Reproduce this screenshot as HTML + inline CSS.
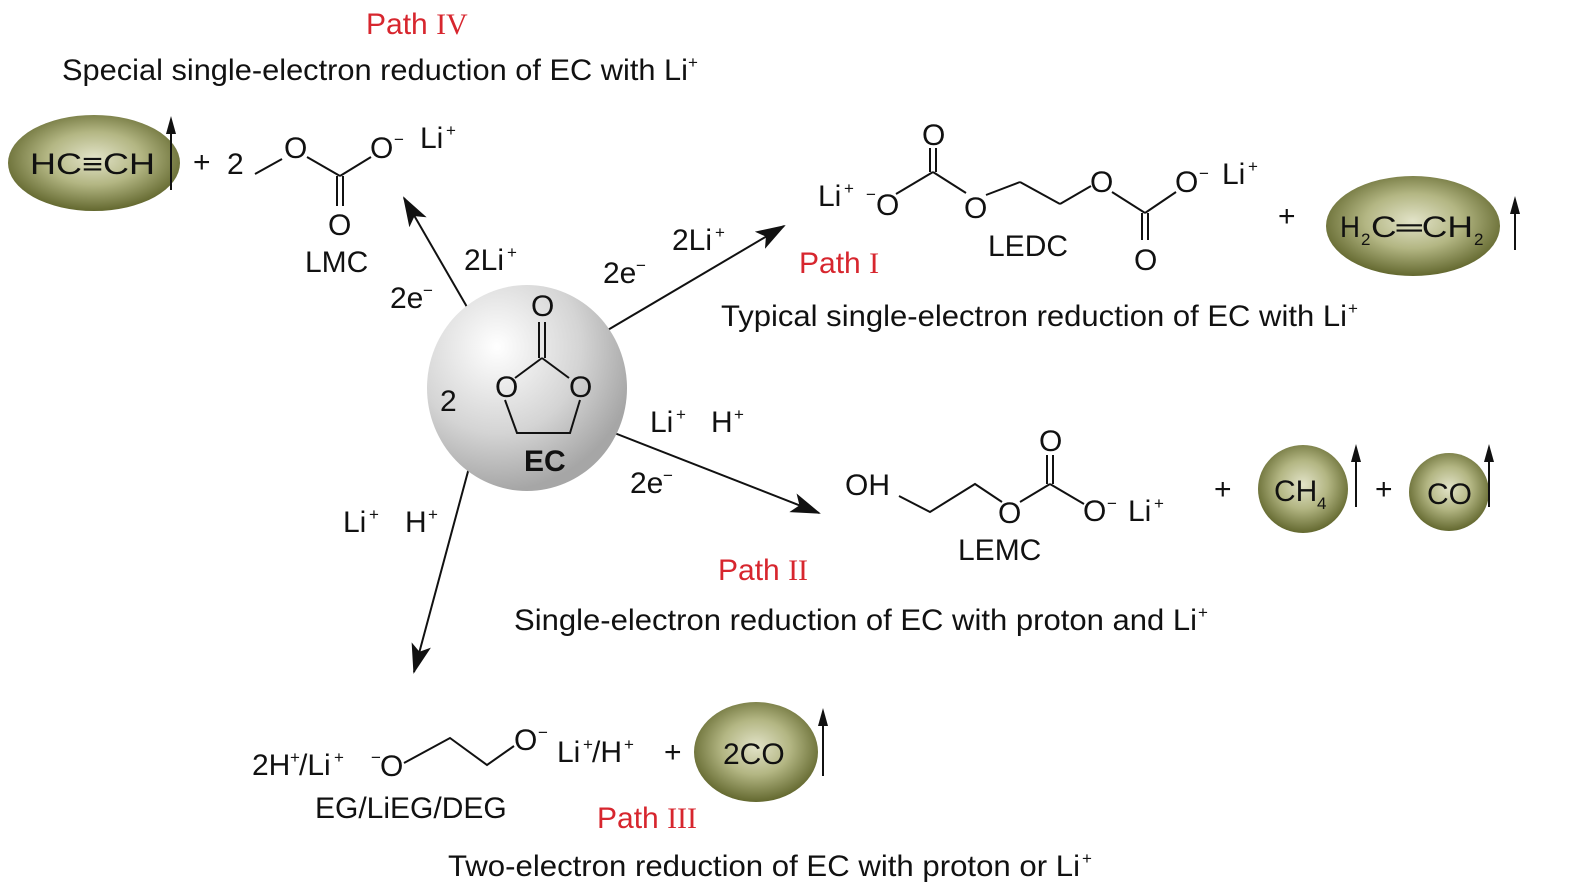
<!DOCTYPE html>
<html><head><meta charset="utf-8"><style>
html,body{margin:0;padding:0;background:#fff;}
svg{display:block;}
text{font-family:"Liberation Sans",Arial,sans-serif;fill:#111;}
.s{font-size:30px;}
.r{fill:#d7262e;}
.rom{font-family:"Liberation Serif",serif;}
.sup{font-size:17px;}
line,polyline{stroke:#111;stroke-width:2;fill:none;}
</style></head><body>
<svg width="1578" height="896" viewBox="0 0 1578 896" xmlns="http://www.w3.org/2000/svg">
<defs>
<radialGradient id="g" cx="50%" cy="45%" r="55%">
<stop offset="0" stop-color="#e2e3c8"/><stop offset="0.5" stop-color="#b3b683"/><stop offset="1" stop-color="#63682f"/>
</radialGradient>
<radialGradient id="gr" cx="35%" cy="30%" r="70%">
<stop offset="0" stop-color="#ffffff"/><stop offset="0.6" stop-color="#d4d4d4"/><stop offset="1" stop-color="#a6a6a6"/>
</radialGradient>
<marker id="ah" viewBox="0 0 30 20" refX="28" refY="10" markerWidth="30" markerHeight="20" markerUnits="userSpaceOnUse" orient="auto">
<path d="M0,0 L30,10 L0,20 L7,10 Z" fill="#111"/></marker>
</defs>

<text x="366" y="34" class="s r">Path <tspan class="rom">IV</tspan></text>
<text x="62" y="80" class="s" textLength="626" lengthAdjust="spacingAndGlyphs">Special single-electron reduction of EC with Li</text><text x="688" y="68" class="sup">+</text>

<ellipse cx="94" cy="163" rx="86" ry="48" fill="url(#g)"/>
<text x="30" y="174" class="s" textLength="125" lengthAdjust="spacingAndGlyphs">HC≡CH</text>
<line x1="171" y1="190" x2="171" y2="132"/><path d="M166,134 L171,116 L176,134 Z" fill="#111"/>
<text x="193" y="172" class="s">+</text>
<text x="227" y="174" class="s">2</text>
<line x1="255" y1="174" x2="282" y2="159"/>
<text x="284" y="158" class="s">O</text>
<line x1="307" y1="157" x2="340" y2="176"/>
<line x1="340" y1="176" x2="371" y2="157"/>
<line x1="337" y1="176" x2="337" y2="206"/><line x1="343" y1="176" x2="343" y2="206"/>
<text x="328" y="235" class="s">O</text>
<text x="370" y="158" class="s">O</text><text x="394" y="145" class="sup">−</text>
<text x="420" y="148" class="s">Li</text><text x="446" y="136" class="sup">+</text>
<text x="305" y="272" class="s">LMC</text>

<line x1="478" y1="326" x2="404" y2="198" marker-end="url(#ah)"/>
<line x1="601" y1="334" x2="784" y2="226" marker-end="url(#ah)"/>
<line x1="594" y1="425" x2="819" y2="513" marker-end="url(#ah)"/>
<line x1="470" y1="464" x2="414" y2="672" marker-end="url(#ah)"/>

<text x="464" y="270" class="s">2Li</text><text x="507" y="258" class="sup">+</text>
<text x="390" y="308" class="s">2e</text><text x="423" y="296" class="sup">−</text>
<text x="672" y="250" class="s">2Li</text><text x="715" y="238" class="sup">+</text>
<text x="603" y="283" class="s">2e</text><text x="636" y="271" class="sup">−</text>
<text x="650" y="432" class="s">Li</text><text x="676" y="420" class="sup">+</text>
<text x="711" y="432" class="s">H</text><text x="734" y="420" class="sup">+</text>
<text x="630" y="493" class="s">2e</text><text x="663" y="481" class="sup">−</text>
<text x="343" y="532" class="s">Li</text><text x="369" y="520" class="sup">+</text>
<text x="405" y="532" class="s">H</text><text x="428" y="520" class="sup">+</text>

<ellipse cx="527" cy="388" rx="100" ry="103" fill="url(#gr)"/>
<text x="531" y="316" class="s">O</text>
<line x1="539" y1="322" x2="539" y2="358"/><line x1="545" y1="322" x2="545" y2="358"/>
<line x1="542" y1="358" x2="515" y2="378"/><line x1="542" y1="358" x2="569" y2="378"/>
<text x="495" y="397" class="s">O</text>
<text x="569" y="397" class="s">O</text>
<polyline points="505,400 517,433 570,433 580,400"/>
<text x="440" y="411" class="s">2</text>
<text x="524" y="471" class="s" font-weight="bold">EC</text>

<text x="818" y="206" class="s">Li</text><text x="844" y="194" class="sup">+</text>
<text x="866" y="200" class="sup">−</text>
<text x="876" y="215" class="s">O</text>
<line x1="896" y1="194" x2="933" y2="172"/>
<line x1="930" y1="172" x2="930" y2="148"/><line x1="936" y1="172" x2="936" y2="148"/>
<text x="922" y="145" class="s">O</text>
<line x1="933" y1="172" x2="966" y2="193"/>
<text x="964" y="218" class="s">O</text>
<line x1="986" y1="195" x2="1020" y2="182"/>
<line x1="1020" y1="182" x2="1060" y2="204"/>
<line x1="1060" y1="204" x2="1091" y2="186"/>
<text x="1090" y="192" class="s">O</text>
<line x1="1112" y1="192" x2="1145" y2="213"/>
<line x1="1142" y1="213" x2="1142" y2="240"/><line x1="1148" y1="213" x2="1148" y2="240"/>
<text x="1134" y="270" class="s">O</text>
<line x1="1145" y1="213" x2="1176" y2="192"/>
<text x="1175" y="192" class="s">O</text><text x="1199" y="179" class="sup">−</text>
<text x="1222" y="184" class="s">Li</text><text x="1248" y="172" class="sup">+</text>
<text x="988" y="256" class="s">LEDC</text>
<text x="799" y="273" class="s r">Path <tspan class="rom">I</tspan></text>
<text x="1278" y="226" class="s">+</text>
<ellipse cx="1413" cy="226" rx="87" ry="50" fill="url(#g)"/>
<text x="1340" y="237" class="s" textLength="20" lengthAdjust="spacingAndGlyphs">H</text>
<text x="1361" y="245" class="sup">2</text>
<text x="1371" y="237" class="s" textLength="102" lengthAdjust="spacingAndGlyphs">C═CH</text>
<text x="1474" y="245" class="sup">2</text>
<line x1="1515" y1="250" x2="1515" y2="212"/><path d="M1510,214 L1515,196 L1520,214 Z" fill="#111"/>
<text x="721" y="326" class="s" textLength="626" lengthAdjust="spacingAndGlyphs">Typical single-electron reduction of EC with Li</text><text x="1348" y="314" class="sup">+</text>

<text x="845" y="495" class="s">OH</text>
<polyline points="899,496 930,512 975,484 1002,502"/>
<text x="998" y="523" class="s">O</text>
<line x1="1020" y1="502" x2="1050" y2="484"/>
<line x1="1047" y1="484" x2="1047" y2="455"/><line x1="1053" y1="484" x2="1053" y2="455"/>
<text x="1039" y="451" class="s">O</text>
<line x1="1050" y1="484" x2="1084" y2="504"/>
<text x="1083" y="521" class="s">O</text><text x="1107" y="509" class="sup">−</text>
<text x="1128" y="521" class="s">Li</text><text x="1154" y="509" class="sup">+</text>
<text x="958" y="560" class="s">LEMC</text>
<text x="1214" y="499" class="s">+</text>
<ellipse cx="1303" cy="489" rx="45" ry="44" fill="url(#g)"/>
<text x="1274" y="501" class="s">CH</text><text x="1317" y="509" class="sup">4</text>
<line x1="1356" y1="507" x2="1356" y2="460"/><path d="M1351,462 L1356,444 L1361,462 Z" fill="#111"/>
<text x="1375" y="499" class="s">+</text>
<ellipse cx="1449" cy="492" rx="40" ry="39" fill="url(#g)"/>
<text x="1427" y="504" class="s">CO</text>
<line x1="1489" y1="507" x2="1489" y2="460"/><path d="M1484,462 L1489,444 L1494,462 Z" fill="#111"/>
<text x="718" y="580" class="s r">Path <tspan class="rom">II</tspan></text>
<text x="514" y="630" class="s" textLength="683" lengthAdjust="spacingAndGlyphs">Single-electron reduction of EC with proton and Li</text><text x="1198" y="618" class="sup">+</text>

<text x="252" y="775" class="s">2H</text><text x="290" y="763" class="sup">+</text>
<text x="299" y="775" class="s">/Li</text><text x="334" y="763" class="sup">+</text>
<text x="371" y="763" class="sup">−</text>
<text x="380" y="776" class="s">O</text>
<polyline points="404,763 450,738 487,765 514,746"/>
<text x="514" y="750" class="s">O</text><text x="538" y="738" class="sup">−</text>
<text x="557" y="762" class="s">Li</text><text x="583" y="750" class="sup">+</text>
<text x="592" y="762" class="s">/H</text><text x="624" y="750" class="sup">+</text>
<text x="664" y="762" class="s">+</text>
<ellipse cx="756" cy="752" rx="62" ry="50" fill="url(#g)"/>
<text x="723" y="764" class="s">2CO</text>
<line x1="823" y1="776" x2="823" y2="724"/><path d="M818,726 L823,708 L828,726 Z" fill="#111"/>
<text x="315" y="818" class="s">EG/LiEG/DEG</text>
<text x="597" y="828" class="s r">Path <tspan class="rom">III</tspan></text>
<text x="448" y="876" class="s" textLength="632" lengthAdjust="spacingAndGlyphs">Two-electron reduction of EC with proton or Li</text><text x="1082" y="864" class="sup">+</text>
</svg>
</body></html>
